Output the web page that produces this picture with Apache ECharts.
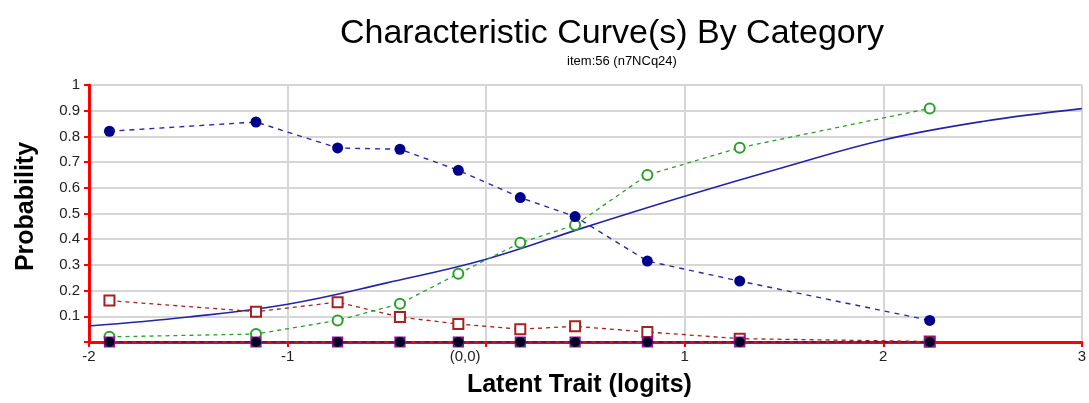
<!DOCTYPE html>
<html>
<head>
<meta charset="utf-8">
<script src="https://cdn.jsdelivr.net/npm/echarts@6/dist/echarts.min.js"></script>
<style>
html,body{margin:0;padding:0;background:#fff;}
#c{width:1089px;height:403px;}
</style>
</head>
<body>
<div id="c"></div>
<script>
// ---- data ----
var titleText = 'Characteristic Curve(s) By Category';
var subtitleText = 'item:56 (n7NCq24)';
var xName = 'Latent Trait (logits)';
var yName = 'Probability';

// observed points (x in logits)
var obsX = [-1.897, -1.159, -0.748, -0.434, -0.140, 0.172, 0.448, 0.812, 1.277, 2.234];
var catBlue  = [0.820, 0.856, 0.755, 0.750, 0.668, 0.562, 0.488, 0.315, 0.237, 0.084];
var catRed   = [0.161, 0.118, 0.155, 0.097, 0.070, 0.050, 0.061, 0.039, 0.013, 0.002];
var catGreen = [0.020, 0.031, 0.084, 0.149, 0.266, 0.386, 0.455, 0.650, 0.756, 0.909];
var catPurple = [0, 0, 0, 0, 0, 0, 0, 0, 0, 0];
var catBlack  = [0, 0, 0, 0, 0, 0, 0, 0, 0, 0];

// model curve
var modelX = [-2, -1.5, -1, -0.5, 0, 0.5, 1, 1.5, 2, 2.5, 3];
var modelY = [0.062, 0.097, 0.147, 0.230, 0.322, 0.447, 0.567, 0.680, 0.786, 0.858, 0.908];

function pairs(xs, ys){ return xs.map(function(x,i){ return [x, ys[i]]; }); }

var font = 'Liberation Sans, Arial, sans-serif';
var chart = echarts.init(document.getElementById('c'), null, {renderer:'canvas'});
chart.setOption({
  animation: false,
  backgroundColor: '#fff',
  title: [
    {text: titleText, left: 607, top: 12, textAlign: 'center',
     textStyle: {fontFamily: font, fontSize: 34, fontWeight: 'normal', color: '#000'}},
    {text: subtitleText, left: 617, top: 50, textAlign: 'center',
     textStyle: {fontFamily: font, fontSize: 13, fontWeight: 'normal', color: '#000'}}
  ],
  grid: {left: 89, right: 6, top: 85, bottom: 61, containLabel: false},
  xAxis: {
    type: 'value', min: -2, max: 3, interval: 1,
    name: xName, nameLocation: 'middle', nameGap: 31,
    nameTextStyle: {fontFamily: font, fontSize: 25, fontWeight: 'bold', color: '#000',
                    padding: [0, 12, 0, 0]},
    axisLine: {onZero: false, lineStyle: {color: '#ff0000', width: 3}},
    axisTick: {show: true, length: 5, lineStyle: {color: '#ff0000', width: 2}},
    axisLabel: {
      fontFamily: font, fontSize: 15, color: '#222', margin: 7,
      formatter: function(v){ return v === 0 ? '{z|(0,0)}' : String(v); },
      rich: {z: {fontFamily: font, fontSize: 15, color: '#222', padding: [0, 42, 0, 0]}}
    },
    splitLine: {show: true, lineStyle: {color: '#d6d6d6', width: 2}}
  },
  yAxis: {
    type: 'value', min: 0, max: 1, interval: 0.1,
    name: yName, nameLocation: 'middle', nameGap: 50,
    nameTextStyle: {fontFamily: font, fontSize: 25, fontWeight: 'bold', color: '#000',
                    padding: [0, 0, 0, 14]},
    axisLine: {show: true, onZero: false, lineStyle: {color: '#ff0000', width: 3}},
    axisTick: {show: true, length: 5, lineStyle: {color: '#ff0000', width: 2}},
    axisLabel: {
      fontFamily: font, fontSize: 15, color: '#222', margin: 9,
      formatter: function(v){ return Math.abs(v) < 1e-9 ? '' : String(+v.toFixed(1)); }
    },
    splitLine: {show: true, lineStyle: {color: '#d6d6d6', width: 2}}
  },
  series: [
    {type: 'line', data: pairs(modelX, modelY), smooth: 0.4, symbol: 'none',
     lineStyle: {color: '#2424a8', width: 1.6}, z: 3},
    {type: 'line', data: pairs(obsX, catRed), symbol: 'emptyRect', symbolSize: 10,
     itemStyle: {color: '#a52222', borderWidth: 1.5},
     lineStyle: {color: '#a52222', width: 1.3, type: [4, 4]}, z: 4},
    {type: 'line', data: pairs(obsX, catGreen), symbol: 'emptyCircle', symbolSize: 10,
     itemStyle: {color: '#2aa02a', borderWidth: 1.3},
     lineStyle: {color: '#2aa02a', width: 1.3, type: [4, 4]}, z: 4},
    {type: 'line', data: pairs(obsX, catPurple), symbol: 'rect', symbolSize: 10,
     itemStyle: {color: '#206080', borderColor: '#a000a0', borderWidth: 1.2},
     lineStyle: {color: '#a52222', width: 1.3, type: [3, 3]}, z: 5},
    {type: 'line', data: pairs(obsX, catBlack), symbol: 'circle', symbolSize: 10,
     itemStyle: {color: '#000020'},
     lineStyle: {color: '#1c1c98', width: 1.5, type: [5, 4]}, z: 6},
    {type: 'line', data: pairs(obsX, catBlue), symbol: 'circle', symbolSize: 11,
     itemStyle: {color: '#00008b'},
     lineStyle: {color: '#2a2aa6', width: 1.4, type: [5, 5]}, z: 7}
  ]
});
</script>
</body>
</html>
